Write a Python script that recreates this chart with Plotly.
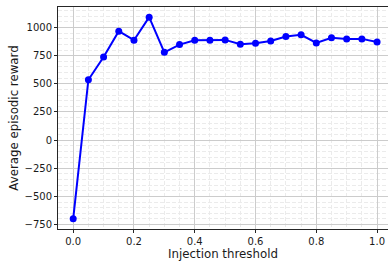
import plotly.graph_objects as go

thresholds = [0.0, 0.05, 0.1, 0.15, 0.2, 0.25, 0.3, 0.35, 0.4, 0.45, 0.5,
              0.55, 0.6, 0.65, 0.7, 0.75, 0.8, 0.85, 0.9, 0.95, 1.0]
rewards = [-699, 536, 738, 967, 887, 1092, 780, 848, 887, 887, 890,
           851, 860, 881, 920, 935, 863, 908, 899, 899, 872]
x_ticks = [0.0, 0.2, 0.4, 0.6, 0.8, 1.0]
x_tick_labels = ["0.0", "0.2", "0.4", "0.6", "0.8", "1.0"]
y_ticks = [-750, -500, -250, 0, 250, 500, 750, 1000]

fig = go.Figure()
fig.add_trace(go.Scatter(
    x=thresholds, y=rewards, mode="lines+markers",
    line=dict(color="#0000ff", width=2),
    marker=dict(color="#0000ff", size=7),
))

font = "DejaVu Sans"
fig.update_layout(
    width=388, height=265,
    margin=dict(l=58, r=0, t=7, b=36),
    plot_bgcolor="white", paper_bgcolor="white",
    showlegend=False,
    font=dict(family=font, size=10, color="#1a1a1a"),
)
fig.update_xaxes(
    automargin=False,
    range=[-0.05, 1.036],
    tickvals=x_ticks, ticktext=x_tick_labels,
    ticks="outside", ticklen=3, tickcolor="#262626",
    showline=True, linecolor="#262626", linewidth=1, mirror=True,
    showgrid=True, gridcolor="#cccccc", gridwidth=1,
    minor=dict(dtick=0.05, tick0=0, showgrid=True, gridcolor="#ebebeb",
               griddash="4px,2px", gridwidth=1),
    zeroline=False,
    tickfont=dict(size=10),
    title=dict(text="Injection threshold", font=dict(size=11.8), standoff=3),
)
fig.update_yaxes(
    automargin=False,
    range=[-789, 1182],
    tickvals=y_ticks,
    ticks="outside", ticklen=3, tickcolor="#262626",
    showline=True, linecolor="#262626", linewidth=1, mirror=False,
    showgrid=True, gridcolor="#cccccc", gridwidth=1,
    minor=dict(dtick=50, tick0=0, showgrid=True, gridcolor="#ebebeb",
               griddash="4px,2px", gridwidth=1),
    zeroline=False,
    tickfont=dict(size=10),
    title=dict(text="Average episodic reward", font=dict(size=11.8), standoff=3),
)
fig.write_html("out.html", post_script="document.body.style.margin='0';",
               config={"displayModeBar": False})
